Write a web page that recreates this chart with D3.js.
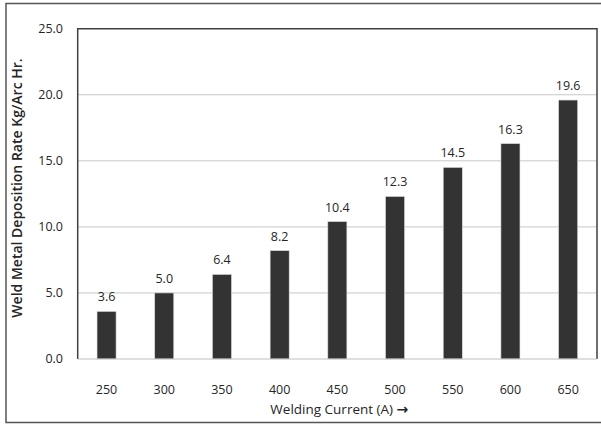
<!DOCTYPE html>
<html><head><meta charset="utf-8">
<script src="https://cdn.jsdelivr.net/npm/d3@7"></script>
<style>
html,body{margin:0;padding:0;background:#fff;}
svg{display:block;}
text{font-family:"Open Sans","Noto Sans",sans-serif;}
</style></head>
<body>
<svg id="c" width="601" height="424"></svg>
<script>
const categories = ["250","300","350","400","450","500","550","600","650"];
const values = [3.6, 5.0, 6.4, 8.2, 10.4, 12.3, 14.5, 16.3, 19.6];
const yTicks = [0, 5, 10, 15, 20, 25];
const yTitle = "Weld Metal Deposition Rate Kg/Arc Hr.";
const xTitle = "Welding Current (A) ";
const xArrow = "\u2192";

const svg = d3.select("#c");
const W = 601, H = 424;
const m = {left: 77.7, right: 4, top: 28.7, bottom: 65};
const x = d3.scaleBand().domain(categories).range([m.left, W - m.right]).paddingInner(0.67).paddingOuter(0.335);
const y = d3.scaleLinear().domain([0, 25]).range([H - m.bottom, m.top]);

// outer border
svg.append("rect").attr("x", 6).attr("y", 3.5).attr("width", 600).attr("height", 419)
  .attr("fill", "none").attr("stroke", "#555").attr("stroke-width", 1.5);

// gridlines
svg.append("g").selectAll("line").data(yTicks.filter(d => d > 0 && d < 25)).join("line")
  .attr("x1", m.left).attr("x2", W - m.right)
  .attr("y1", d => y(d)).attr("y2", d => y(d))
  .attr("stroke", "#c8c8c8").attr("stroke-width", 1);

// plot box: left, top, right dark
const px0 = m.left, px1 = W - m.right, py0 = m.top, py1 = H - m.bottom;
svg.append("path").attr("d", `M${px0},${py1}V${py0}H${px1}V${py1}`)
  .attr("fill", "none").attr("stroke", "#404040").attr("stroke-width", 1.5);

// bars
svg.append("g").selectAll("rect").data(values).join("rect")
  .attr("x", (d, i) => x(categories[i])).attr("width", x.bandwidth())
  .attr("y", d => y(d)).attr("height", d => y(0) - y(d))
  .attr("fill", "#333333").attr("stroke", "#d9d9d9").attr("stroke-width", 0.6);

// x axis line
svg.append("line").attr("x1", px0).attr("x2", px1).attr("y1", py1).attr("y2", py1)
  .attr("stroke", "#bfbfbf").attr("stroke-width", 1.2);

// value labels
svg.append("g").selectAll("text").data(values).join("text")
  .attr("x", (d, i) => x(categories[i]) + x.bandwidth() / 2)
  .attr("y", d => y(d) - 10)
  .attr("text-anchor", "middle").attr("font-size", 12.5).attr("fill", "#262626")
  .text(d => d.toFixed(1));

// y tick labels
svg.append("g").selectAll("text").data(yTicks).join("text")
  .attr("x", 63).attr("y", d => y(d) + 4)
  .attr("text-anchor", "end").attr("font-size", 12.5).attr("fill", "#262626")
  .text(d => d.toFixed(1));

// x tick labels
svg.append("g").selectAll("text").data(categories).join("text")
  .attr("x", d => x(d) + x.bandwidth() / 2).attr("y", 394)
  .attr("text-anchor", "middle").attr("font-size", 12.5).attr("fill", "#262626")
  .text(d => d);

// titles
const xt = svg.append("text").attr("x", (px0 + px1) / 2 + 2).attr("y", 414)
  .attr("text-anchor", "middle").attr("font-size", 13.5).attr("fill", "#262626");
xt.append("tspan").text(xTitle);
xt.append("tspan").attr("font-family", "DejaVu Sans").attr("font-weight", "bold").attr("font-size", 14).text(xArrow);
svg.append("text").attr("transform", `translate(22,188) rotate(-90)`)
  .attr("text-anchor", "middle").attr("font-size", 14).attr("font-weight", 600).attr("fill", "#262626")
  .text(yTitle);
</script>
</body></html>
